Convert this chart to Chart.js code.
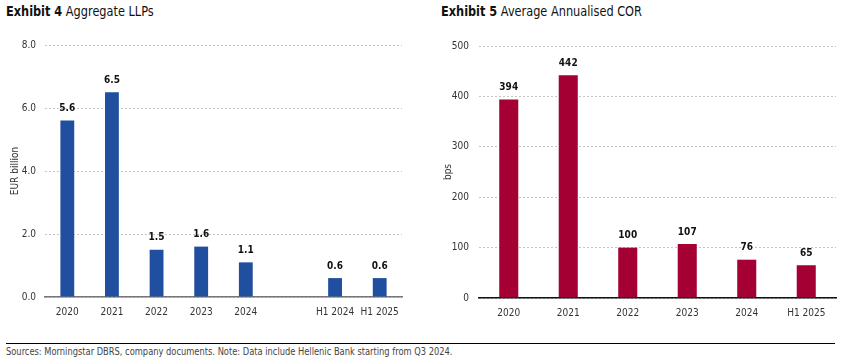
<!DOCTYPE html>
<html lang="en">
<head>
    <meta charset="UTF-8">
    <title>Aggregate LLPs and Average Annualised COR</title>
    <script src="https://cdn.jsdelivr.net/npm/chart.js"></script>
    <style>
        body { margin: 0; background: #fff; width: 843px; height: 358px; position: relative; overflow: hidden;
               font-family: "Liberation Sans Narrow", "DejaVu Sans Condensed", "Roboto", sans-serif; }
        .title { position: absolute; top: 3px; font-size: 14px; color: #111; white-space: nowrap;
                 transform: scaleX(0.9); transform-origin: left center; }
        .title b { font-weight: bold; }
        .box { position: absolute; top: 30px; height: 300px; }
        .rule { position: absolute; left: 6px; top: 343px; width: 829px; height: 1px; background: #000; }
        .source { position: absolute; left: 6px; top: 345px; font-size: 11px; color: #444; white-space: nowrap;
                  transform: scaleX(0.84); transform-origin: left center; }
    </style>
</head>
<body>
    <div class="title" style="left: 6px;"><b>Exhibit 4</b> Aggregate LLPs</div>
    <div class="title" style="left: 441px;"><b>Exhibit 5</b> Average Annualised COR</div>
    <div class="box" style="left: 0; width: 410px;"><canvas id="llpChart"></canvas></div>
    <div class="box" style="left: 430px; width: 413px;"><canvas id="corChart"></canvas></div>
    <div class="rule"></div>
    <div class="source">Sources: Morningstar DBRS, company documents. Note: Data include Hellenic Bank starting from Q3 2024.</div>
    <script>
        // Exhibit 4 - aggregate LLPs (EUR billion), blank slot before the half-year bars
        const llpLabels = ['2020', '2021', '2022', '2023', '2024', '', 'H1 2024', 'H1 2025'];
        const llpValues = [5.6, 6.5, 1.5, 1.6, 1.1, null, 0.6, 0.6];
        const llpTicks = [0, 2, 4, 6, 8];

        // Exhibit 5 - average annualised cost of risk (bps)
        const corLabels = ['2020', '2021', '2022', '2023', '2024', 'H1 2025'];
        const corValues = [394, 442, 100, 107, 76, 65];
        const corTicks = [0, 100, 200, 300, 400, 500];

        const FONT = '"Liberation Sans Narrow", "DejaVu Sans Condensed", "Roboto", sans-serif';
        Chart.defaults.font.family = FONT;
        Chart.defaults.color = '#333';

        // draws the value above each bar
        const valueLabels = {
            id: 'valueLabels',
            afterDatasetsDraw(chart, args, opts) {
                const ctx = chart.ctx;
                const ds = chart.data.datasets[0];
                const meta = chart.getDatasetMeta(0);
                ctx.save();
                ctx.font = 'bold 10px ' + FONT;
                ctx.fillStyle = '#111';
                ctx.textAlign = 'center';
                ctx.textBaseline = 'bottom';
                meta.data.forEach((bar, i) => {
                    const v = ds.data[i];
                    if (v === null || v === undefined) return;
                    ctx.fillText(v.toFixed(opts.decimals), bar.x, bar.y - 7);
                });
                ctx.restore();
            }
        };

        function makeChart(id, labels, values, ticks, color, opt) {
            const ctx = document.getElementById(id).getContext('2d');
            return new Chart(ctx, {
                type: 'bar',
                data: {
                    labels: labels,
                    datasets: [{
                        data: values,
                        backgroundColor: color,
                        barPercentage: opt.barPct,
                        categoryPercentage: 1
                    }]
                },
                options: {
                    responsive: true,
                    maintainAspectRatio: false,
                    animation: false,
                    layout: { padding: { top: opt.padTop, right: opt.padRight, left: 0, bottom: 0 } },
                    plugins: {
                        legend: { display: false },
                        tooltip: { enabled: false },
                        valueLabels: { decimals: opt.decimals }
                    },
                    scales: {
                        x: {
                            grid: { display: false, drawTicks: false },
                            border: { display: true, color: opt.axisColor, width: 1.5 },
                            ticks: { padding: 9, font: { size: 10 }, color: '#333', maxRotation: 0, autoSkip: false },
                            afterFit: s => { s.height = opt.xHeight; }
                        },
                        y: {
                            min: 0,
                            max: ticks[ticks.length - 1],
                            afterBuildTicks: s => { s.ticks = ticks.map(v => ({ value: v })); },
                            grid: { color: '#c4c4c4', drawTicks: false, lineWidth: 1 },
                            border: { display: false, dash: [2, 2] },
                            ticks: {
                                padding: opt.tickPad,
                                font: { size: 10 },
                                color: '#333',
                                callback: v => v.toFixed(opt.decimals)
                            },
                            title: {
                                display: true,
                                text: opt.yTitle,
                                font: { size: 10 },
                                color: '#333',
                                padding: { top: opt.titlePad, bottom: 0 }
                            },
                            afterFit: s => { s.width = opt.yWidth; }
                        }
                    }
                },
                plugins: [valueLabels]
            });
        }

        makeChart('llpChart', llpLabels, llpValues, llpTicks, '#1f4f9e', {
            barPct: 0.31, decimals: 1, axisColor: '#777', yTitle: 'EUR billion',
            padTop: 8, padRight: 8, xHeight: 33, tickPad: 9, titlePad: 9, yWidth: 45
        });

        makeChart('corChart', corLabels, corValues, corTicks, '#a50034', {
            barPct: 0.32, decimals: 0, axisColor: '#111', yTitle: 'bps',
            padTop: 14, padRight: 7, xHeight: 32, tickPad: 10, titlePad: 12, yWidth: 49
        });
    </script>
</body>
</html>
